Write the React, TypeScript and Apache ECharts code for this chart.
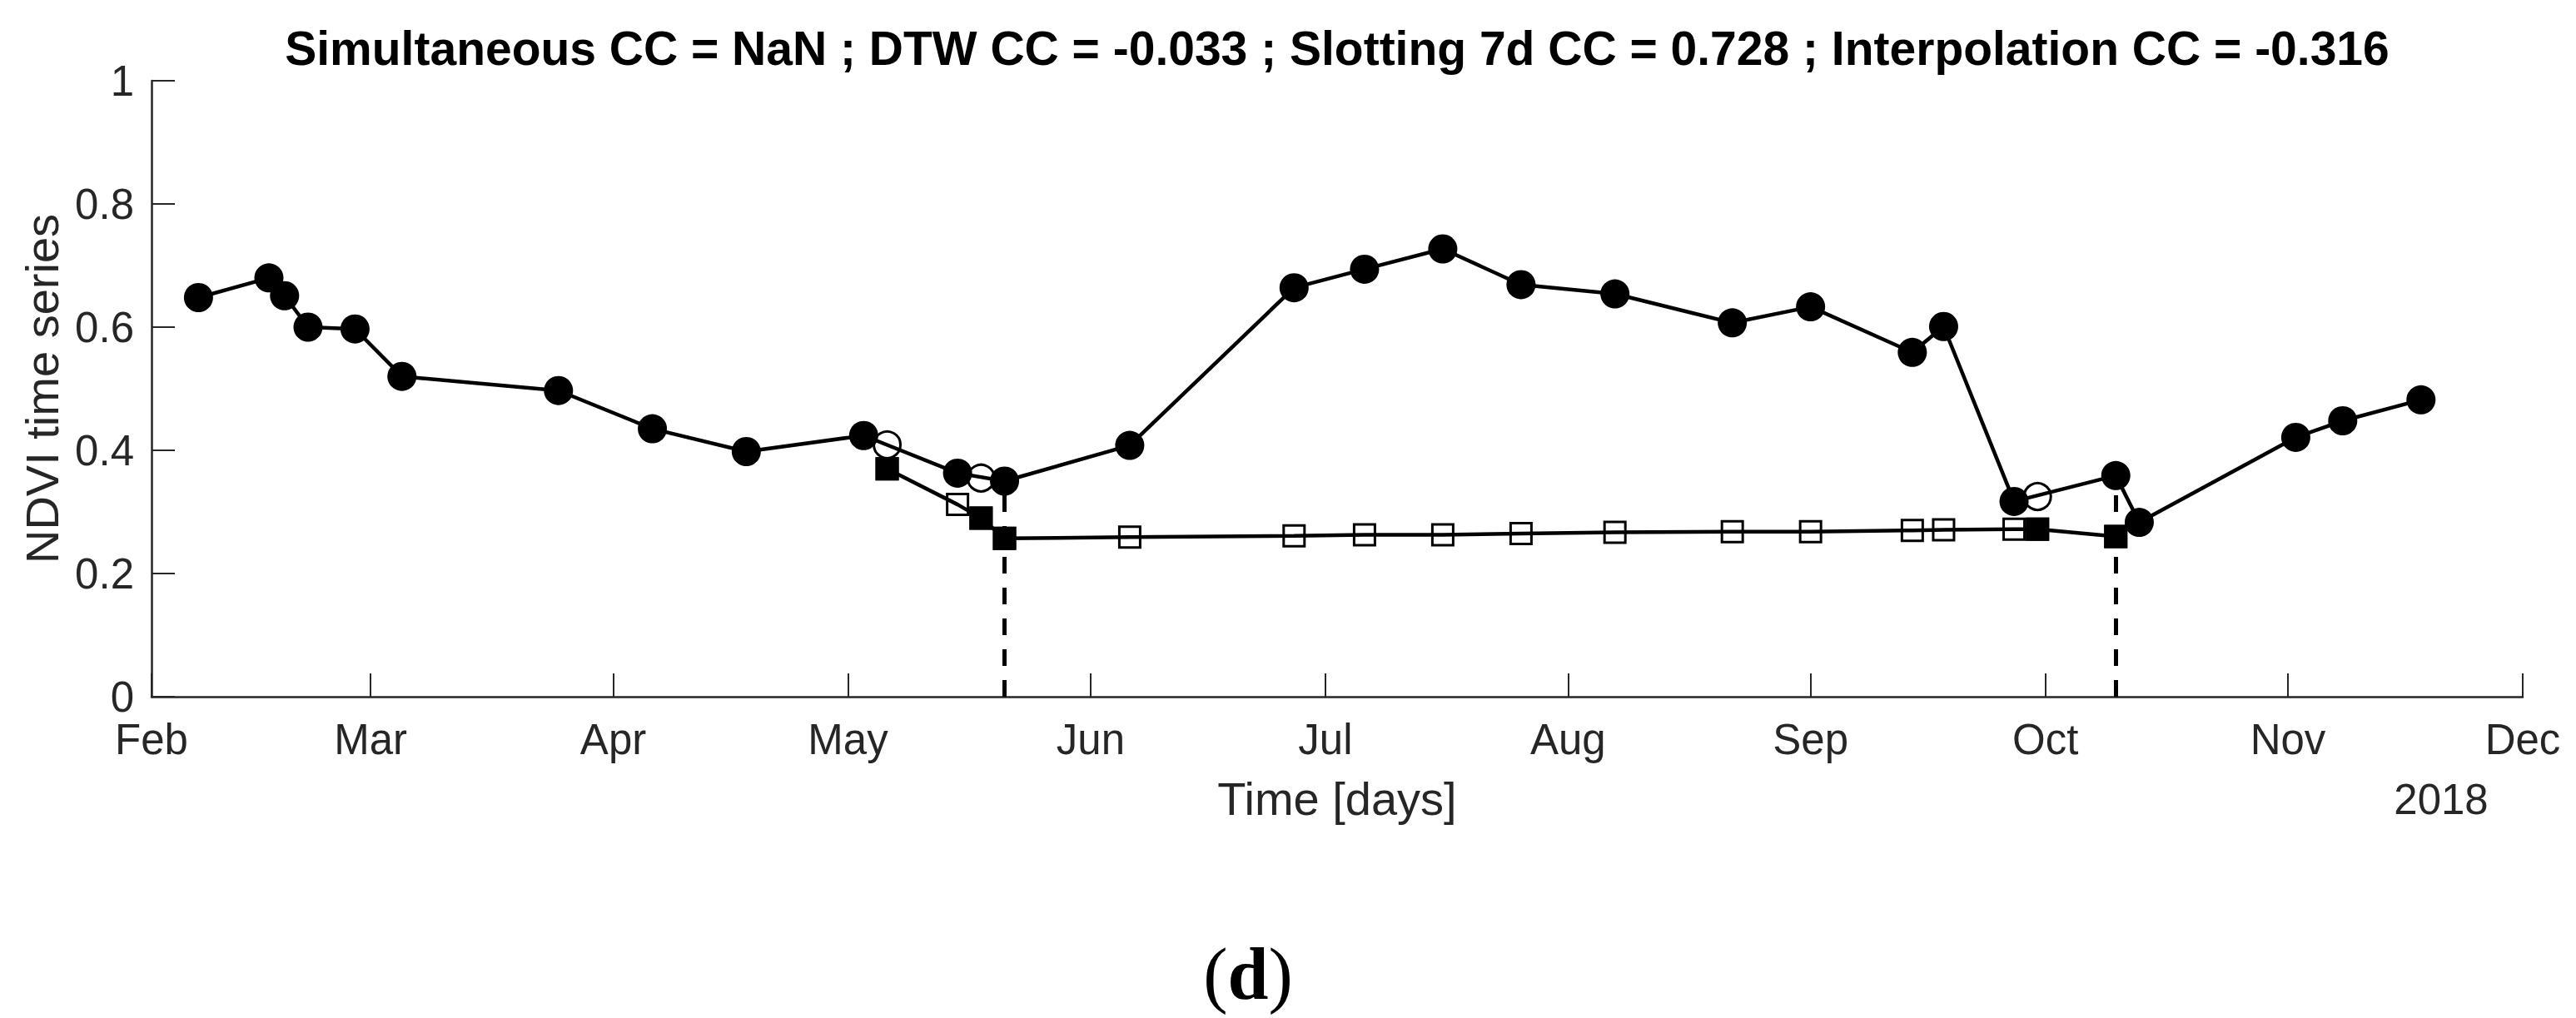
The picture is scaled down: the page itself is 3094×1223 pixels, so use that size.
import React, { useEffect, useRef } from "react";
import * as echarts from "echarts";

// ---- data ----
const monthNames = ["Jan", "Feb", "Mar", "Apr", "May", "Jun", "Jul", "Aug", "Sep", "Oct", "Nov", "Dec"];
const axisStart = "2018-02-01";
const axisEnd = "2018-12-01";
const yearLabel = "2018";
const yTicks = [0, 0.2, 0.4, 0.6, 0.8, 1];

const seriesADates = [
  "2018-02-07", "2018-02-16", "2018-02-18", "2018-02-21", "2018-02-27", "2018-03-05",
  "2018-03-25", "2018-04-06", "2018-04-18", "2018-05-03", "2018-05-15", "2018-05-21",
  "2018-06-06", "2018-06-27", "2018-07-06", "2018-07-16", "2018-07-26", "2018-08-07",
  "2018-08-22", "2018-09-01", "2018-09-14", "2018-09-18", "2018-09-27", "2018-10-10",
  "2018-10-13", "2018-11-02", "2018-11-08", "2018-11-18",
];
const seriesAValues = [
  0.648, 0.68, 0.651, 0.6, 0.597, 0.52,
  0.497, 0.435, 0.398, 0.424, 0.363, 0.35,
  0.408, 0.664, 0.694, 0.727, 0.669, 0.654,
  0.607, 0.633, 0.559, 0.601, 0.317, 0.359,
  0.283, 0.421, 0.448, 0.482,
];

const seriesBDates = [
  "2018-05-06", "2018-05-15", "2018-05-18", "2018-05-21", "2018-06-06", "2018-06-27",
  "2018-07-06", "2018-07-16", "2018-07-26", "2018-08-07", "2018-08-22", "2018-09-01",
  "2018-09-14", "2018-09-18", "2018-09-27", "2018-09-30", "2018-10-10",
];
const seriesBValues = [
  0.37, 0.312, 0.29, 0.257, 0.259, 0.261,
  0.263, 0.263, 0.265, 0.267, 0.268, 0.268,
  0.27, 0.271, 0.272, 0.272, 0.26,
];

const matchedBDates = ["2018-05-06", "2018-05-18", "2018-05-21", "2018-09-30", "2018-10-10"];
const interpADates = ["2018-05-06", "2018-05-18", "2018-09-30"];
const interpAValues = [0.409, 0.355, 0.325];
const alignDates = ["2018-05-21", "2018-10-10"];

const titleText =
  "Simultaneous CC = NaN ; DTW CC = -0.033 ; Slotting 7d CC = 0.728 ; Interpolation CC = -0.316";

// ---- helpers ----
const ts = (s: string) => {
  const [y, m, d] = s.split("-").map(Number);
  return new Date(y, m - 1, d).getTime();
};
const pairs = (dates: string[], vals: number[]) => dates.map((d, i) => [ts(d), vals[i]]);

const W = 3094;
const H = 1223;
const GRID_L = 182;
const GRID_R = 64;
const GRID_T = 97;
const GRID_B = 386;
const AXIS_COLOR = "#262626";
const SANS = "'Liberation Sans', Arial, Helvetica, sans-serif";

export default function App() {
  const ref = useRef<HTMLDivElement>(null);

  useEffect(() => {
    document.body.style.margin = "0";
    if (!ref.current) return;
    const chart = echarts.init(ref.current, undefined, { renderer: "svg" });

    const aData = pairs(seriesADates, seriesAValues);
    const bData = pairs(seriesBDates, seriesBValues);
    const matchedData = matchedBDates.map((d) => [ts(d), seriesBValues[seriesBDates.indexOf(d)]]);
    const interpData = pairs(interpADates, interpAValues);
    const alignLines = alignDates.map((d) => {
      const v = seriesAValues[seriesADates.indexOf(d)];
      return [{ coord: [ts(d), 0] }, { coord: [ts(d), v] }];
    });

    const plotCenter = GRID_L + (W - GRID_L - GRID_R) / 2;

    chart.setOption({
      animation: false,
      backgroundColor: "#ffffff",
      title: {
        text: titleText,
        left: plotCenter,
        textAlign: "center",
        top: 29,
        padding: 0,
        textStyle: { fontFamily: SANS, fontWeight: "bold", fontSize: 57, color: "#000" },
      },
      grid: { left: GRID_L, right: GRID_R, top: GRID_T, bottom: GRID_B },
      xAxis: {
        type: "time",
        min: ts(axisStart),
        max: ts(axisEnd),
        splitNumber: 10,
        minInterval: 28 * 86400000,
        maxInterval: 31 * 86400000,
        name: "Time [days]",
        nameLocation: "middle",
        nameGap: 94,
        nameTextStyle: { fontFamily: SANS, fontSize: 56, color: AXIS_COLOR },
        axisLine: { show: true, lineStyle: { color: AXIS_COLOR, width: 2.5 } },
        axisTick: { show: true, inside: true, length: 28, lineStyle: { color: AXIS_COLOR, width: 2 } },
        minorTick: { show: false },
        splitLine: { show: false },
        axisLabel: {
          show: true,
          margin: 26,
          showMinLabel: true,
          showMaxLabel: true,
          fontFamily: SANS,
          fontSize: 51,
          color: AXIS_COLOR,
          formatter: (v: number) => monthNames[new Date(v).getMonth()],
        },
      },
      yAxis: {
        type: "value",
        min: yTicks[0],
        max: yTicks[yTicks.length - 1],
        interval: yTicks[1] - yTicks[0],
        name: "NDVI time series",
        nameLocation: "middle",
        nameRotate: 90,
        nameGap: 104,
        nameTextStyle: { fontFamily: SANS, fontSize: 56, color: AXIS_COLOR },
        axisLine: { show: true, lineStyle: { color: AXIS_COLOR, width: 2.5 } },
        axisTick: { show: true, inside: true, length: 28, lineStyle: { color: AXIS_COLOR, width: 2 } },
        splitLine: { show: false },
        axisLabel: {
          margin: 21,
          fontFamily: SANS,
          fontSize: 51,
          color: AXIS_COLOR,
          formatter: (v: number) => String(Math.round(v * 10) / 10),
        },
      },
      graphic: [
        {
          type: "text",
          x: 2932,
          y: 960,
          style: {
            text: yearLabel,
            fontFamily: SANS,
            fontSize: 51,
            fill: AXIS_COLOR,
            align: "center",
            verticalAlign: "middle",
          },
        },
        {
          type: "text",
          x: 1499,
          y: 1170,
          style: {
            text: "{p|(}{b|d}{p|)}",
            align: "center",
            verticalAlign: "middle",
            rich: {
              p: { fontFamily: "'Liberation Serif', 'Times New Roman', serif", fontSize: 88, fill: "#000" },
              b: {
                fontFamily: "'Liberation Serif', 'Times New Roman', serif",
                fontSize: 88,
                fontWeight: "bold",
                fill: "#000",
              },
            },
          },
        },
      ],
      series: [
        {
          name: "Series B",
          type: "line",
          data: bData,
          symbol: "rect",
          symbolSize: 25,
          showAllSymbol: true,
          lineStyle: { color: "#000", width: 4.5 },
          itemStyle: { color: "rgba(255,255,255,0)", borderColor: "#000", borderWidth: 3 },
          z: 2,
        },
        {
          name: "Series A",
          type: "line",
          data: aData,
          symbol: "circle",
          symbolSize: 35,
          showAllSymbol: true,
          lineStyle: { color: "#000", width: 4.5 },
          itemStyle: { color: "#000" },
          markLine: {
            silent: true,
            symbol: ["none", "none"],
            label: { show: false },
            lineStyle: { color: "#000", width: 5, type: [20, 17] },
            data: alignLines,
          },
          z: 3,
        },
        {
          name: "Matched B",
          type: "scatter",
          data: matchedData,
          symbol: "rect",
          symbolSize: 28,
          itemStyle: { color: "#000", opacity: 1 },
          z: 4,
        },
        {
          name: "Interpolated A",
          type: "scatter",
          data: interpData,
          symbol: "circle",
          symbolSize: 32,
          itemStyle: { color: "rgba(255,255,255,0)", borderColor: "#000", borderWidth: 3, opacity: 1 },
          z: 5,
        },
      ],
    });

    return () => chart.dispose();
  }, []);

  return <div ref={ref} style={{ width: W, height: H }} />;
}
